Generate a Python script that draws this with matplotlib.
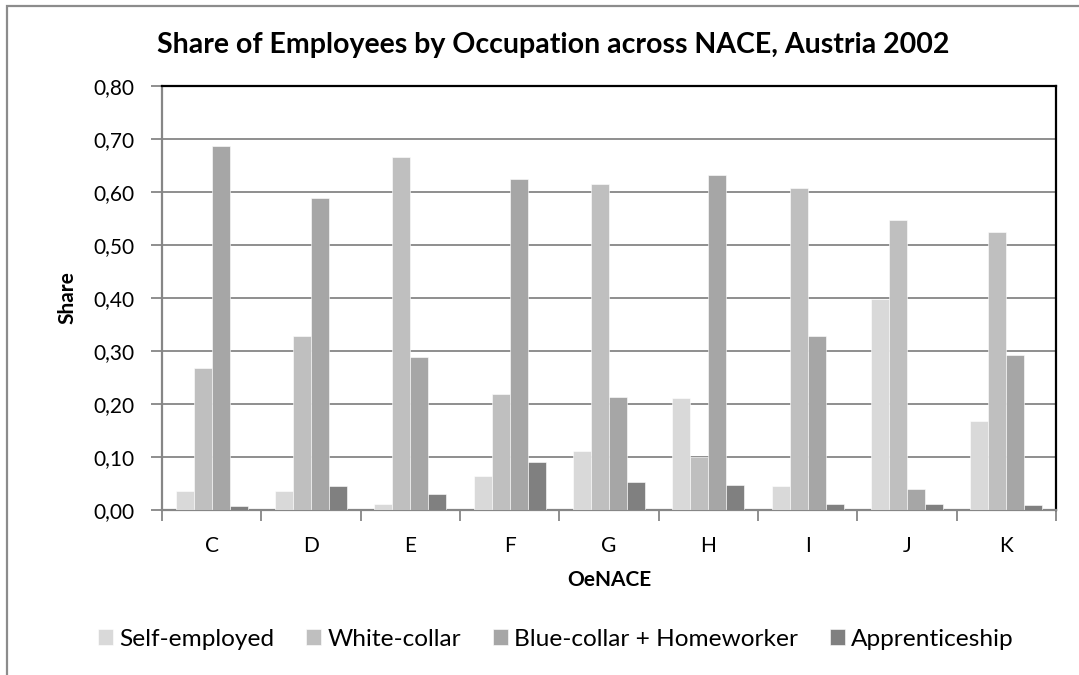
import numpy as np
import matplotlib
matplotlib.use("Agg")
import matplotlib.pyplot as plt
from matplotlib.patches import Rectangle
from matplotlib.ticker import FixedLocator

# data
categories = ["C", "D", "E", "F", "G", "H", "I", "J", "K"]
self_employed = [0.035, 0.035, 0.012, 0.064, 0.112, 0.211, 0.046, 0.398, 0.168]
white_collar  = [0.268, 0.328, 0.666, 0.218, 0.615, 0.100, 0.608, 0.547, 0.525]
blue_collar   = [0.686, 0.588, 0.288, 0.624, 0.214, 0.633, 0.329, 0.040, 0.292]
apprentice    = [0.008, 0.045, 0.030, 0.091, 0.053, 0.048, 0.011, 0.012, 0.009]
series_names = ["Self-employed", "White-collar", "Blue-collar + Homeworker", "Apprenticeship"]
colors = ["#D9D9D9", "#BFBFBF", "#A6A6A6", "#808080"]

plt.rcParams["font.family"] = ["Lato", "DejaVu Sans"]
W, H = 1079, 675
fig = plt.figure(figsize=(W/100, H/100), dpi=100)
ax = fig.add_axes([162/W, 1-510/H, 894/W, 424/H])

x = np.arange(len(categories))
bw = 0.182
for i, (vals, name, c) in enumerate(zip([self_employed, white_collar, blue_collar, apprentice], series_names, colors)):
    ax.bar(x + (i-1.5)*bw, vals, width=bw, color=c, edgecolor="white", linewidth=0.4, label=name, zorder=3)

ax.set_xlim(-0.5, len(categories)-0.5)
ax.set_ylim(0, 0.80)
yt = np.arange(0, 0.81, 0.10)
ax.set_yticks(yt)
ax.set_yticklabels([f"{v:.2f}".replace(".", ",") for v in yt], fontsize=15)
ax.grid(axis="y", color="#868686", lw=1.3, zorder=1)
ax.set_axisbelow(True)

ax.xaxis.set_major_locator(FixedLocator(np.arange(-0.5, len(categories), 1.0)))
ax.xaxis.set_minor_locator(FixedLocator(x))
ax.set_xticklabels([""]*(len(categories)+1))
ax.set_xticklabels(categories, minor=True, fontsize=15)
ax.tick_params(axis="x", which="major", length=8, width=1.3, color="#868686")
ax.tick_params(axis="x", which="minor", length=0, pad=19)
ax.tick_params(axis="y", length=8, width=1.3, color="#868686", pad=12)

for s in ["top", "right"]:
    ax.spines[s].set_color("black"); ax.spines[s].set_linewidth(1.6)
for s in ["left", "bottom"]:
    ax.spines[s].set_color("#868686"); ax.spines[s].set_linewidth(1.6)
ax.spines["top"].set_zorder(5)

fig.text(67/W, 1-298/H, "Share", rotation=90, ha="center", va="center",
         fontsize=15, fontweight="bold")
fig.text(609/W, 1-580/H, "OeNACE", ha="center", va="center", fontsize=15, fontweight="bold")
fig.text(553/W, 1-45/H, "Share of Employees by Occupation across NACE, Austria 2002",
         ha="center", va="center", fontsize=20.5, fontweight="bold")

fig.legend(loc="center", bbox_to_anchor=(556/W, 1-639/H), ncol=4, frameon=False,
           fontsize=17.6, handlelength=0.62, handleheight=0.62, handletextpad=0.25,
           columnspacing=1.3)

# outer chart frame (cut off at right and bottom)
fig.patches.append(Rectangle((7/W, -0.05), 1.1, 1-6/H+0.05, transform=fig.transFigure,
                             fill=False, edgecolor="#8C8C8C", lw=1.6))

fig.savefig("out.png", dpi=100)
